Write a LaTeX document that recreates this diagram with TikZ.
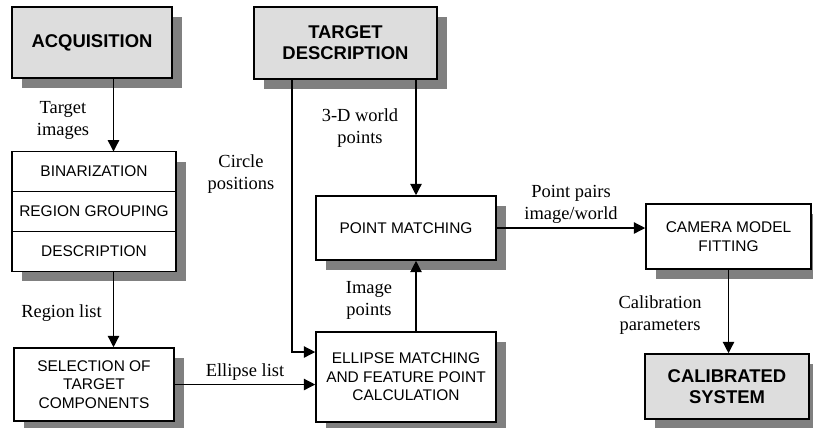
\documentclass[tikz,border=0pt]{standalone}
\usepackage{fontspec}
\setmainfont{Liberation Serif}
\setsansfont{Liberation Sans}
\usetikzlibrary{arrows.meta, positioning, shadows}

\definecolor{boxgray}{HTML}{DDDDDD}
\definecolor{shadowgray}{HTML}{808080}

\begin{document}
\begin{tikzpicture}[
        x=0.02cm, y=-0.02cm,
        block/.style={draw, line width=0.9pt, fill=white, align=center, inner sep=2pt,
            font=\sffamily\fontsize{8.8}{10.5}\selectfont,
            drop shadow={shadow xshift=0.2cm, shadow yshift=-0.2cm, fill=shadowgray, opacity=1}},
        headbox/.style={block, fill=boxgray, font=\sffamily\bfseries\fontsize{10.5}{12}\selectfont},
        stackrow/.style={block, outer sep=0pt, minimum width=3.28cm, minimum height=0.8cm},
        lbl/.style={font=\fontsize{10.5}{12.5}\selectfont, align=center, inner sep=2pt},
        arrow/.style={-{Triangle[length=6.5pt,width=6.5pt]}, line width=0.75pt}
    ]
        \useasboundingbox (0,0) rectangle (813,427);

        % Inputs
        \node[headbox, minimum width=3.2cm, minimum height=1.42cm] (acq) at (92,42.5) {ACQUISITION};
        \node[headbox, minimum width=3.66cm, minimum height=1.44cm] (td) at (345.5,43) {TARGET\\DESCRIPTION};

        % Image processing chain
        \node[stackrow] (binar) at (94,171.5) {BINARIZATION};
        \node[stackrow, below=0pt of binar] (region) {REGION GROUPING};
        \node[stackrow, below=0pt of region] (descr) {DESCRIPTION};
        \node[block, minimum width=3.2cm, minimum height=1.46cm] (sel) at (94,384.5) {SELECTION OF\\TARGET\\COMPONENTS};

        % Matching
        \node[block, minimum width=3.6cm, minimum height=1.8cm] (ell) at (406,377) {ELLIPSE MATCHING\\AND FEATURE POINT\\CALCULATION};
        \node[block, minimum width=3.6cm, minimum height=1.28cm] (pm) at (406,228) {POINT MATCHING};

        % Camera model
        \node[block, minimum width=3.3cm, minimum height=1.3cm] (cam) at (728.5,236.5) {CAMERA MODEL\\FITTING};
        \node[headbox, minimum width=3.28cm, minimum height=1.3cm] (cal) at (727,386.5) {CALIBRATED\\SYSTEM};

        % Columns of the vertical connectors
        \coordinate (acq_col) at (113.5,0);
        \coordinate (circ_col) at (292,0);
        \coordinate (pm_col) at (416,0);

        % Connections
        \draw[arrow] (acq.south -| acq_col) -- (binar.north -| acq_col);
        \draw[arrow] (descr.south -| acq_col) -- (sel.north -| acq_col);
        \draw[arrow] (sel.east) -- (sel.east -| ell.west) node[lbl, midway, above] (lbl_ellipse) {Ellipse list};
        \draw[arrow] (td.south -| circ_col) |- ([yshift=0.5cm]ell.west);
        \draw[arrow] (td.south -| pm_col) -- (pm.north -| pm_col);
        \draw[arrow] (ell.north -| pm_col) -- (pm.south -| pm_col);
        \draw[arrow] (pm.east) -- (pm.east -| cam.west) node[lbl, midway, above] (lbl_pairs) {Point pairs\\image/world};
        \draw[arrow] (cam.south) -- (cam.south |- cal.north);

        % Connector labels
        \node[lbl] (lbl_target) at (63,120) {Target\\images};
        \node[lbl] (lbl_region) at (61.5,313) {Region list};
        \node[lbl] (lbl_circle) at (241,174) {Circle\\positions};
        \node[lbl] (lbl_world) at (360,128) {3-D world\\points};
        \node[lbl] (lbl_image) at (369,300) {Image\\points};
        \node[lbl] (lbl_calib) at (660,315) {Calibration\\parameters};

\end{tikzpicture}
\end{document}
